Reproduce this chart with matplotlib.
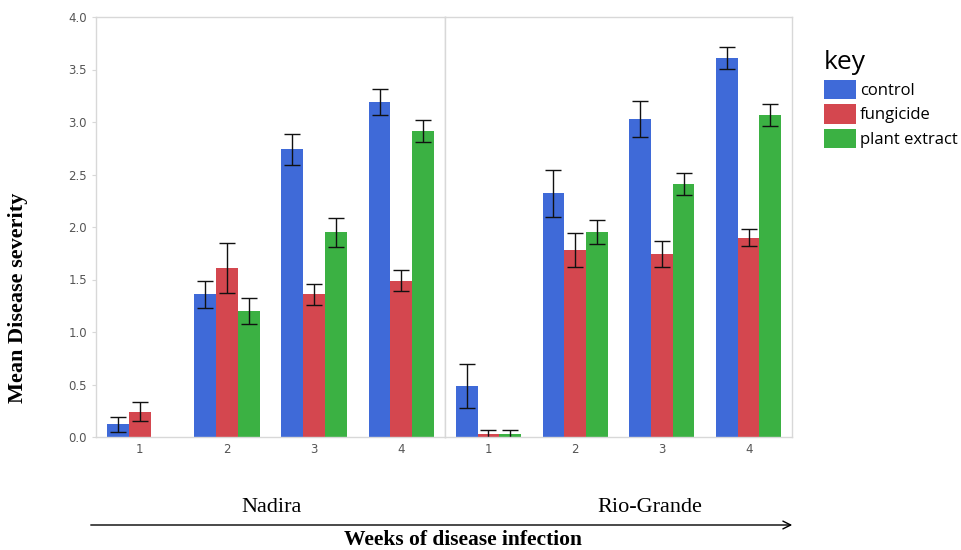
import matplotlib
matplotlib.use("Agg")
import matplotlib.pyplot as plt
import numpy as np
from matplotlib.patches import Patch

weeks = ["1", "2", "3", "4"]
varieties = ["Nadira", "Rio-Grande"]
treatments = ["control", "fungicide", "plant extract"]
colors = ["#3f6ad8", "#d4474f", "#3bb143"]

nadira_means = {
    "control": [0.12, 1.36, 2.74, 3.19],
    "fungicide": [0.24, 1.61, 1.36, 1.49],
    "plant extract": [np.nan, 1.20, 1.95, 2.91],
}
nadira_err = {
    "control": [0.07, 0.13, 0.15, 0.12],
    "fungicide": [0.09, 0.24, 0.10, 0.10],
    "plant extract": [np.nan, 0.12, 0.14, 0.105],
}
rio_means = {
    "control": [0.49, 2.32, 3.03, 3.61],
    "fungicide": [0.03, 1.78, 1.74, 1.90],
    "plant extract": [0.03, 1.95, 2.41, 3.07],
}
rio_err = {
    "control": [0.21, 0.22, 0.17, 0.105],
    "fungicide": [0.035, 0.16, 0.125, 0.085],
    "plant extract": [0.035, 0.115, 0.105, 0.105],
}

W, H = 961, 550
fig = plt.figure(figsize=(W / 100, H / 100), dpi=100)

left, right, top, bottom = 96, 792, 17, 437
mid = 445
ax_b = 1 - bottom / H
ax_h = (bottom - top) / H
ax1 = fig.add_axes([left / W, ax_b, (mid - left) / W, ax_h])
ax2 = fig.add_axes([mid / W, ax_b, (right - mid) / W, ax_h], sharey=ax1)

grey = "#d8d8d8"
tick_col = "#555555"
bw = 0.25
x = np.arange(len(weeks))
for ax, means, errs in [(ax1, nadira_means, nadira_err), (ax2, rio_means, rio_err)]:
    for i, t in enumerate(treatments):
        pos = x + (i - 1) * bw
        ax.bar(pos, means[t], width=bw, color=colors[i], edgecolor="none")
        ax.errorbar(pos, means[t], yerr=errs[t], fmt="none", ecolor="#111111",
                    elinewidth=1.0, capsize=5.5, capthick=1.0)
    ax.set_xlim(-0.5, len(weeks) - 0.5)
    ax.set_xticks(x)
    ax.set_xticklabels(weeks)
    for s in ax.spines.values():
        s.set_color(grey)
        s.set_linewidth(1.0)
    ax.tick_params(axis="x", length=0, colors=tick_col, labelsize=8.5, pad=4)
    ax.tick_params(axis="y", colors=grey, labelcolor=tick_col, labelsize=8.5, length=3)

ax1.set_ylim(0, 4.0)
ax1.set_yticks(np.arange(0, 4.01, 0.5))
ax1.set_yticklabels([f"{v:.1f}" for v in np.arange(0, 4.01, 0.5)])
ax2.tick_params(axis="y", left=False, labelleft=False)

# y label
fig.text(18 / W, 1 - 298 / H, "Mean Disease severity", rotation=90,
         family="Liberation Serif", fontweight="bold", fontsize=16,
         ha="center", va="center")

# variety labels
fig.text(272 / W, 1 - 507 / H, varieties[0], family="Liberation Serif",
         fontsize=16, ha="center", va="center")
fig.text(650 / W, 1 - 507 / H, varieties[1], family="Liberation Serif",
         fontsize=16, ha="center", va="center")

# arrow
fig.add_artist(matplotlib.patches.FancyArrowPatch(
    (88 / W, 1 - 525 / H), (795 / W, 1 - 525 / H), transform=fig.transFigure,
    arrowstyle="->", mutation_scale=14, color="black", lw=1.0))

fig.text(463 / W, 1 - 540 / H, "Weeks of disease infection", family="Liberation Serif",
         fontweight="bold", fontsize=15.5, ha="center", va="center")

# legend
handles = [Patch(facecolor=c, edgecolor="none") for c in colors]
leg = fig.legend(handles, treatments, loc="upper left",
                 bbox_to_anchor=(824 / W, 1 - 50 / H), frameon=False,
                 title="key", title_fontsize=19, fontsize=12,
                 handlelength=1.9, handleheight=1.4, handletextpad=0.25,
                 labelspacing=0.3, borderaxespad=0, borderpad=0)
leg._legend_box.align = "left"
for txt in leg.get_texts():
    txt.set_family("Open Sans")
leg.get_title().set_family("Open Sans")

fig.savefig("out.png", dpi=100)
